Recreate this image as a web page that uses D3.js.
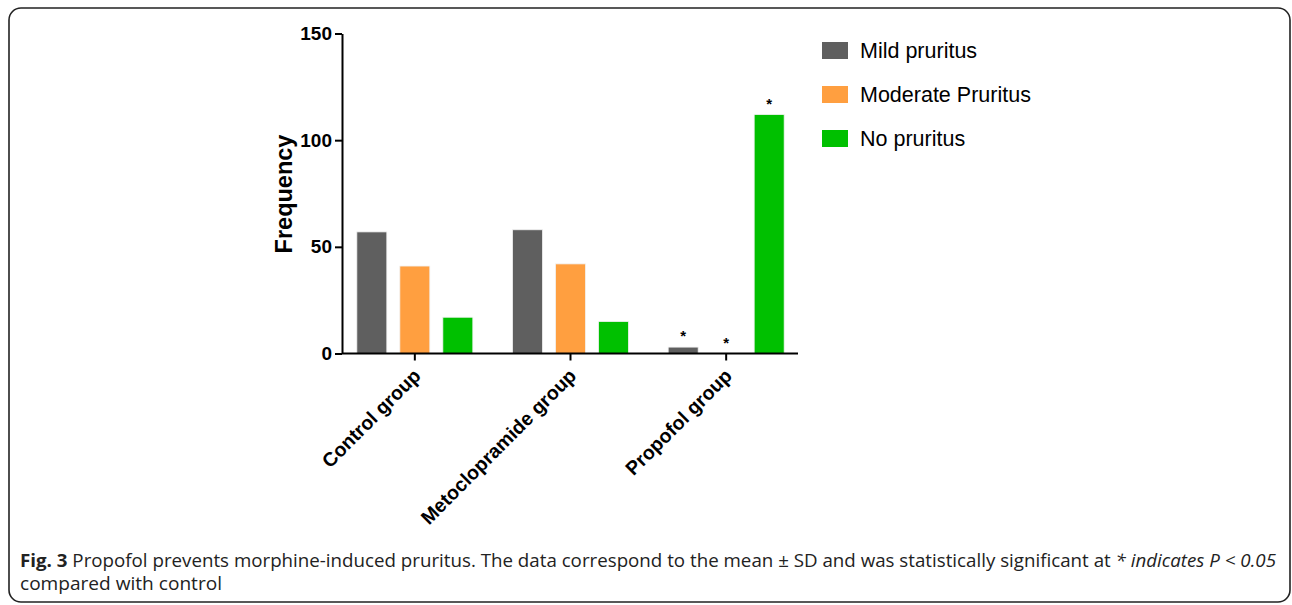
<!DOCTYPE html>
<html>
<head>
<meta charset="utf-8">
<script src="https://cdn.jsdelivr.net/npm/d3@7"></script>
<style>
  body { margin: 0; background: #fff; }
  svg { display: block; }
</style>
</head>
<body>
<div id="chart"></div>
<script>
// chart data
var groups = ["Control group", "Metoclopramide group", "Propofol group"];
var seriesNames = ["Mild pruritus", "Moderate Pruritus", "No pruritus"];
var mild = [57, 58, 3];
var moderate = [41, 42, 0];
var none = [17, 15, 112];
var starred = [[false, false, false], [false, false, false], [true, true, true]];
var yTicks = [0, 50, 100, 150];
var colors = ["#5f5f5f", "#ff9f40", "#00c000"];

var width = 1292, height = 605;
var values = [mild, moderate, none];

var svg = d3.select('#chart').append('svg').attr('width', width).attr('height', height);

// frame round the figure
svg.append('rect')
   .attr('x', 9).attr('y', 8)
   .attr('width', 1281).attr('height', 594)
   .attr('rx', 12).attr('ry', 12)
   .attr('fill', 'none').attr('stroke', '#222').attr('stroke-width', 1.6);

var y = d3.scaleLinear().domain([0, 150]).range([353.5, 33.5]);
var x0 = d3.scaleBand().domain(groups).range([337, 804]).padding(0);
var bw = x0.bandwidth();
var x1 = d3.scaleBand().domain(seriesNames).range([bw / 2 - 58, bw / 2 + 58]).paddingInner(13 / 43).paddingOuter(0);

var plot = svg.append('g');

// bars
var grp = plot.selectAll('g.grp')
   .data(groups)
   .enter()
   .append('g')
   .attr('class', 'grp')
   .attr('transform', function(d) { return 'translate(' + x0(d) + ',0)'; });

grp.selectAll('rect')
   .data(function(d, gi) {
      return seriesNames.map(function(s, si) { return {s: s, si: si, v: values[si][gi], star: starred[gi][si]}; });
   })
   .enter()
   .append('rect')
   .attr('x', function(d) { return x1(d.s); })
   .attr('width', x1.bandwidth())
   .attr('y', function(d) { return y(d.v); })
   .attr('height', function(d) { return y(0) - y(d.v); })
   .attr('fill', function(d) { return colors[d.si]; })
   .attr('stroke', '#f2f2f2')
   .attr('stroke-width', 0.8);

// significance stars
grp.selectAll('text.star')
   .data(function(d, gi) {
      return seriesNames.map(function(s, si) { return {s: s, v: values[si][gi], star: starred[gi][si]}; })
         .filter(function(d) { return d.star; });
   })
   .enter()
   .append('text')
   .attr('class', 'star')
   .attr('x', function(d) { return x1(d.s) + x1.bandwidth() / 2; })
   .attr('y', function(d) { return y(d.v) - 6; })
   .attr('text-anchor', 'middle')
   .style('font-family', 'Liberation Sans, Arial, sans-serif')
   .style('font-weight', 'bold')
   .style('font-size', '15px')
   .text('*');

// y axis
var yAxis = plot.append('g')
   .attr('transform', 'translate(342,0)')
   .call(d3.axisLeft(y).tickValues(yTicks).tickSize(7).tickSizeOuter(0).tickPadding(3));
yAxis.select('.domain').attr('stroke-width', 2);
yAxis.selectAll('.tick line').attr('stroke-width', 2);
yAxis.selectAll('.tick text')
   .style('font-family', 'Liberation Sans, Arial, sans-serif')
   .style('font-weight', 'bold')
   .style('font-size', '19px')
   .attr('fill', '#000');

// x axis
var xAxis = plot.append('g')
   .attr('transform', 'translate(0,' + y(0) + ')')
   .call(d3.axisBottom(x0).tickSize(7).tickSizeOuter(0).tickFormat(''));
xAxis.select('.domain').attr('d', 'M342,0H798').attr('stroke-width', 2);
xAxis.selectAll('.tick line').attr('stroke-width', 2);

// rotated group labels
plot.selectAll('text.cat')
   .data(groups)
   .enter()
   .append('text')
   .attr('class', 'cat')
   .attr('text-anchor', 'end')
   .attr('transform', function(d) {
      return 'translate(' + (x0(d) + bw / 2 + 7) + ',' + 377 + ') rotate(-45)';
   })
   .style('font-family', 'Liberation Sans, Arial, sans-serif')
   .style('font-weight', 'bold')
   .style('font-size', '19.5px')
   .text(function(d) { return d; });

// y title
svg.append('text')
   .attr('transform', 'translate(292,194) rotate(-90)')
   .attr('text-anchor', 'middle')
   .style('font-family', 'Liberation Sans, Arial, sans-serif')
   .style('font-weight', 'bold')
   .style('font-size', '23.5px')
   .text('Frequency');

// legend
var legend = svg.selectAll('g.leg')
   .data(seriesNames)
   .enter()
   .append('g')
   .attr('class', 'leg')
   .attr('transform', function(d, i) { return 'translate(822,' + (42 + i * 44) + ')'; });
legend.append('rect')
   .attr('width', 26).attr('height', 17)
   .attr('fill', function(d, i) { return colors[i]; });
legend.append('text')
   .attr('x', 38).attr('y', 16)
   .style('font-family', 'Liberation Sans, Arial, sans-serif')
   .style('font-size', '21.5px')
   .text(function(d) { return d; });

// caption
var cap = svg.append('text')
   .attr('x', 20).attr('y', 567)
   .attr('textLength', 1256).attr('lengthAdjust', 'spacingAndGlyphs')
   .style('font-family', 'Open Sans, sans-serif')
   .style('font-size', '18px')
   .attr('fill', '#222');
cap.append('tspan').style('font-weight', 'bold').text('Fig. 3');
cap.append('tspan').text(' Propofol prevents morphine-induced pruritus. The data correspond to the mean \u00b1 SD and was statistically significant at ');
cap.append('tspan').style('font-style', 'italic').text('* indicates P <  0.05');

svg.append('text')
   .attr('x', 20).attr('y', 590)
   .attr('textLength', 202).attr('lengthAdjust', 'spacingAndGlyphs')
   .style('font-family', 'Open Sans, sans-serif')
   .style('font-size', '18px')
   .attr('fill', '#222')
   .text('compared with control');
</script>
</body>
</html>
